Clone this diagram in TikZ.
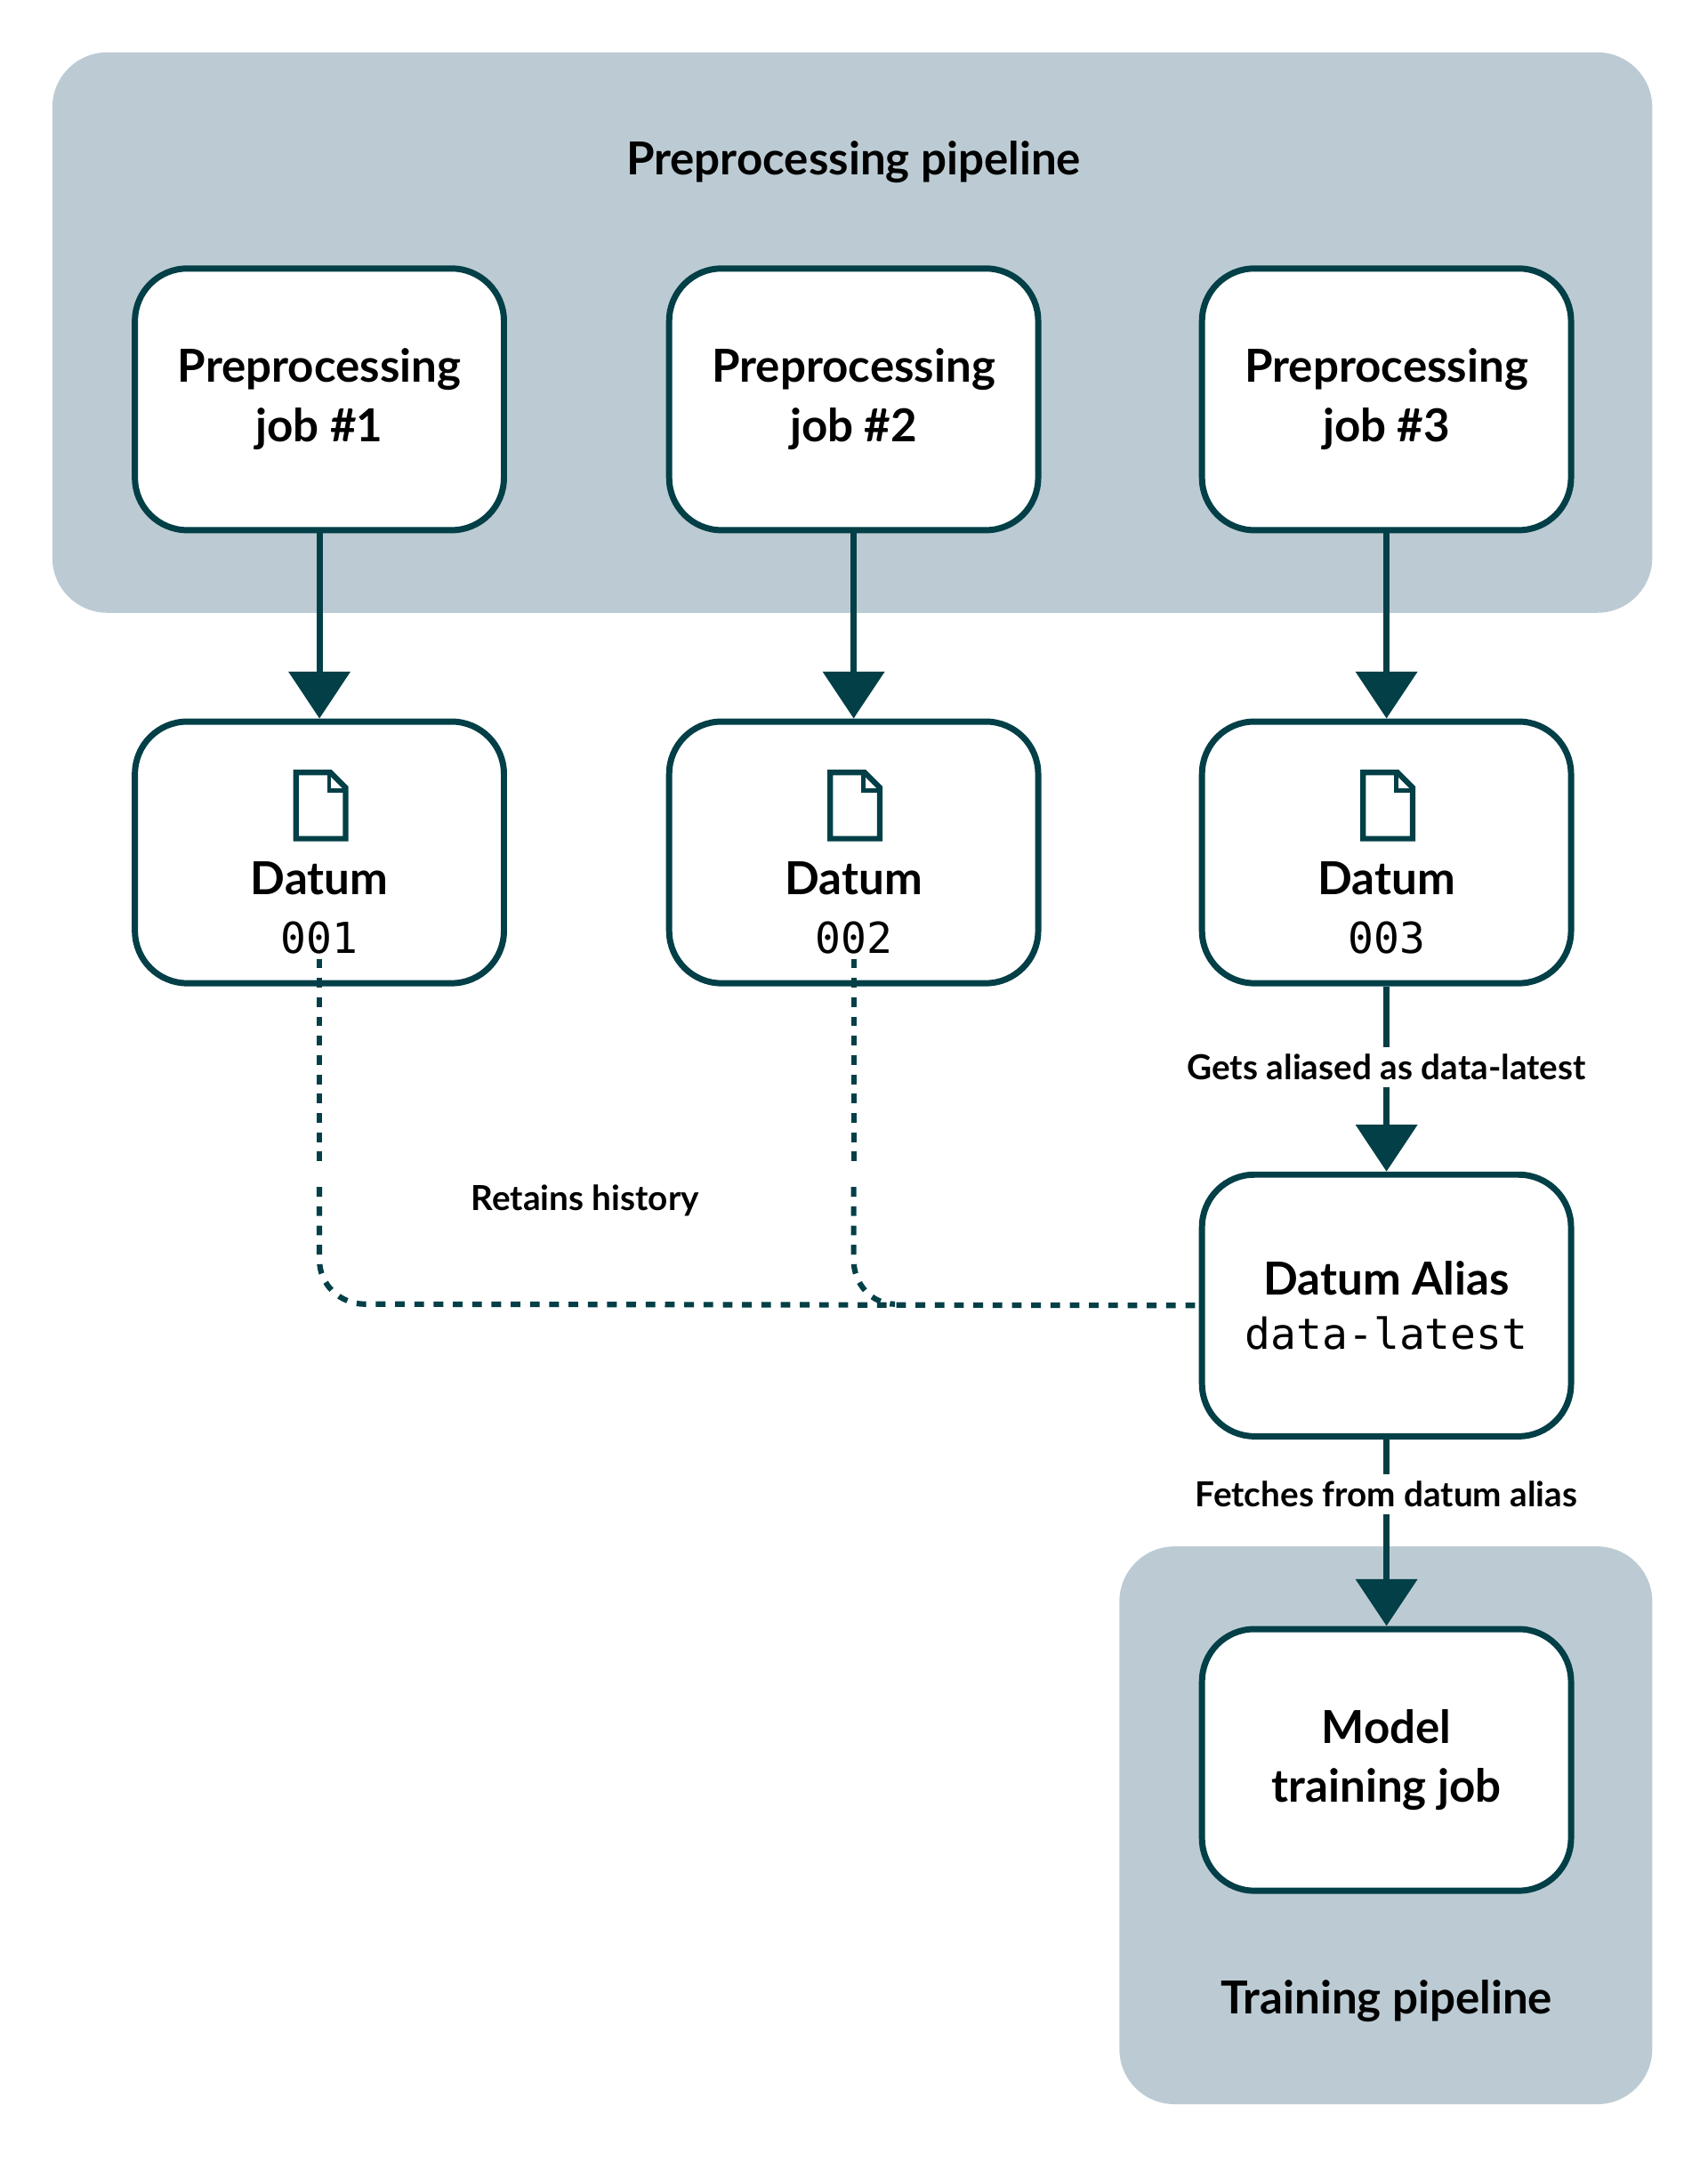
\documentclass[tikz,border=0pt]{standalone}
\usepackage{fontspec}
\setmainfont{Lato}
\newfontfamily\codefont{DejaVu Sans Mono}
\usetikzlibrary{arrows.meta}
\definecolor{ink}{HTML}{033F47}
\definecolor{panel}{HTML}{BCCBD3}
\begin{document}
\begin{tikzpicture}[x=1pt,y=-1pt,
  panelbox/.style={fill=panel,rounded corners=40pt},
  box/.style={draw=ink,line width=4.5pt,fill=white,rounded corners=38pt,minimum width=268pt,minimum height=190pt,inner sep=0pt,align=center,font=\fontsize{33}{43}\selectfont\bfseries},
  arr/.style={draw=ink,line width=4.5pt,-{Triangle[length=34pt,width=44pt]}},
  dots/.style={draw=ink,line width=4pt,dash pattern=on 7pt off 7pt},
  lbl/.style={font=\fontsize{25}{30}\selectfont\bfseries,fill=white,inner sep=5pt},
  code/.style={font=\codefont\fontsize{31}{36}\selectfont}]
\useasboundingbox (0,0) rectangle (1240,1570);
\fill[white] (0,0) rectangle (1240,1570);
\fill[panelbox] (38,38) rectangle (1200,445);
\fill[panelbox] (813,1123) rectangle (1200,1528);
\node[font=\fontsize{33}{38}\selectfont\bfseries] (t1) at (620,118) {Preprocessing pipeline};
\node[font=\fontsize{33}{38}\selectfont\bfseries] (t2) at (1007,1453) {Training pipeline};
\foreach \i/\x in {1/232,2/620,3/1007}{
  \node[box] (j\i) at (\x,290) {Preprocessing\\job \#\i};
  \node[box] (d\i) at (\x,619) {};
  \draw[arr] (j\i.south) -- (d\i.north);
  \draw[ink,line width=4pt,line join=miter] (\x-17,561) -- (\x+8,561) -- (\x+19,572) -- (\x+19,609) -- (\x-17,609) -- cycle;
  \draw[ink,line width=3pt] (\x+7,561) -- (\x+7,574) -- (\x+19,574);
  \node[font=\fontsize{33}{38}\selectfont\bfseries] (dn\i) at (\x,638) {Datum};
  \node[code] (dc\i) at (\x,681) {00\i};
}
\node[box] (al) at (1007,948) {Datum Alias\\[-4pt]{\codefont\mdseries\fontsize{31}{36}\selectfont data-latest}};
\node[box] (mt) at (1007,1278) {Model\\training job};
\coordinate (k1) at (232,850);
\coordinate (k1b) at (232,862);
\coordinate (k2) at (620,850);
\coordinate (k2b) at (620,862);
\draw[dots] (dc1.south) -- (k1);
\draw[dots] (k1b) -- (232,915) to[out=-90,in=180] (265,947) -- (al.west);
\draw[dots] (dc2.south) -- (k2);
\draw[dots] (k2b) -- (620,915) to[out=-90,in=180] (650,947);
\node[lbl,fill=none] (rh) at (425,872) {Retains history};
\draw[arr] (d3.south) -- (al.north);
\node[lbl] (ga) at (1007,775) {Gets aliased as data-latest};
\draw[arr] (al.south) -- (mt.north);
\node[lbl] (fa) at (1007,1085) {Fetches from datum alias};
\end{tikzpicture}
\end{document}
